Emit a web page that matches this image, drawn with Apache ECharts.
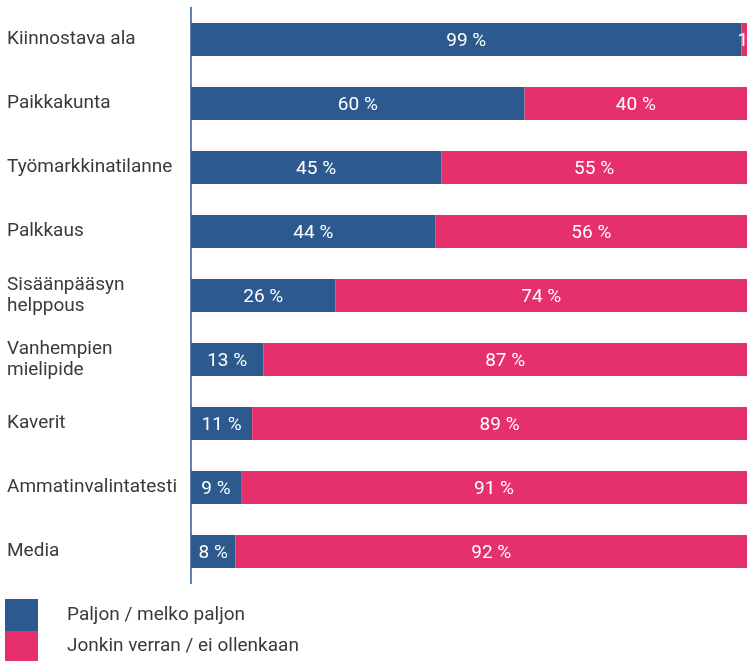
<!DOCTYPE html>
<html><head><meta charset="utf-8">
<script src="https://cdn.jsdelivr.net/npm/echarts@6/dist/echarts.min.js"></script>
<style>html,body{margin:0;padding:0;background:#fff}#c{width:747px;height:661px}</style>
</head><body><div id="c"></div>
<script>
const categories = ['Kiinnostava ala','Paikkakunta','Työmarkkinatilanne','Palkkaus','Sisäänpääsyn\nhelppous','Vanhempien\nmielipide','Kaverit','Ammatinvalintatesti','Media'];
const paljon = [99,60,45,44,26,13,11,9,8];
const jonkin = [1,40,55,56,74,87,89,91,92];
const seriesNames = ['Paljon / melko paljon','Jonkin verran / ei ollenkaan'];
const BLUE = '#2c5a8e', PINK = '#e6306c';
const font = 'Roboto';
const chart = echarts.init(document.getElementById('c'));
const lbl = {show:true, position:'inside', offset:[0,2], color:'#fff', fontSize:19, fontFamily:font, formatter: p => p.value + ' %'};
const legendText = {color:'#3a3a3a',fontSize:19,fontFamily:font,padding:[0,0,0,24]};
chart.setOption({
  animation:false,
  grid:{left:191,right:0,top:7.5,bottom:77.5},
  xAxis:{type:'value',min:0,max:100,show:false},
  yAxis:{type:'category',data:categories,inverse:true,
    axisLine:{show:true,lineStyle:{color:BLUE,width:1.5}},axisTick:{show:false},
    axisLabel:{align:'left',margin:184,color:'#3a3a3a',fontSize:19,fontFamily:font,lineHeight:21,padding:[3,0,0,0]}},
  legend:[
    {orient:'vertical',left:5,top:599,padding:0,itemWidth:33,itemHeight:32,itemGap:0,icon:'rect',textStyle:legendText,data:[seriesNames[0]],selectedMode:false},
    {orient:'vertical',left:5,top:631,padding:0,itemWidth:33,itemHeight:30,itemGap:0,icon:'rect',textStyle:legendText,data:[seriesNames[1]],selectedMode:false}
  ],
  series:[
    {name:seriesNames[0],type:'bar',stack:'a',barWidth:33,data:paljon,itemStyle:{color:BLUE},label:lbl},
    {name:seriesNames[1],type:'bar',stack:'a',barWidth:33,itemStyle:{color:PINK},label:lbl,
     data:jonkin.map(v => v < 5 ? {value:v,label:{position:[-4,'50%'],align:'left',verticalAlign:'middle'}} : v)}
  ]
});
</script></body></html>
